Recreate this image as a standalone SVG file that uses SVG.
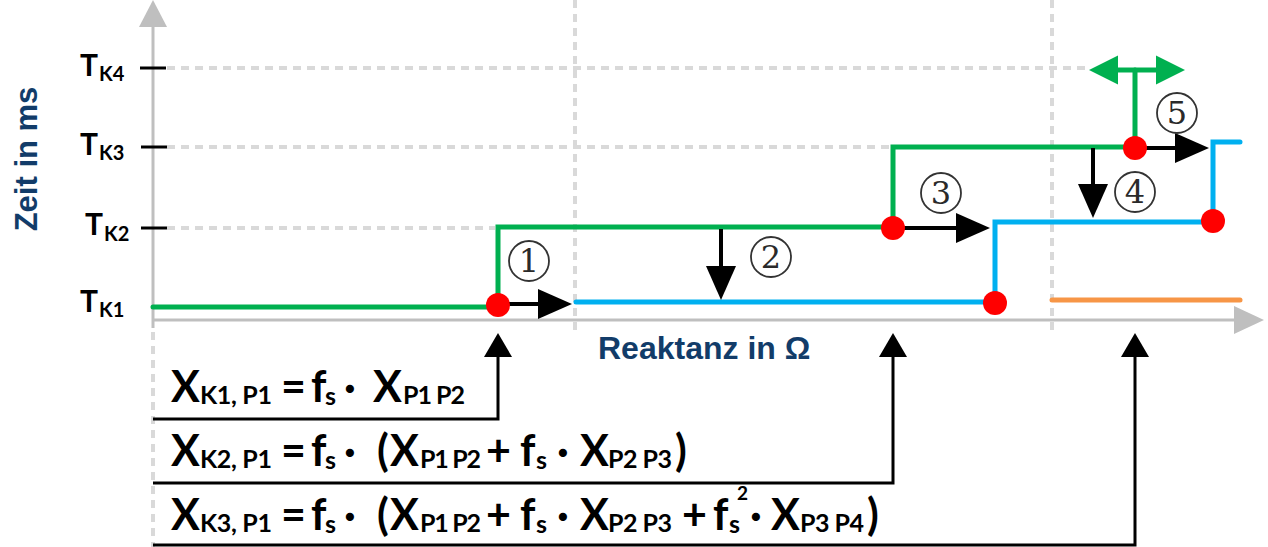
<svg xmlns="http://www.w3.org/2000/svg" width="1268" height="547" viewBox="0 0 1268 547">
<style>
.dash{stroke:#d9d9d9;stroke-width:4;stroke-dasharray:8 6;fill:none}
.axis{stroke:#bfbfbf;stroke-width:3;fill:none}
.tick{stroke:#000;stroke-width:3}
.green{stroke:#00b050;stroke-width:5;fill:none;stroke-linecap:round;stroke-linejoin:miter}
.blue{stroke:#00b0f0;stroke-width:5;fill:none;stroke-linecap:round;stroke-linejoin:miter}
.orange{stroke:#f79646;stroke-width:5;fill:none;stroke-linecap:round}
.arr{stroke:#000;stroke-width:4;fill:none}
.conn{stroke:#000;stroke-width:3;fill:none}
.dot{fill:#ff0000}
.circ{fill:none;stroke:#333;stroke-width:1.8}
.num{font-family:"DejaVu Serif","Liberation Serif",serif;font-size:32px;fill:#2a2a2a;text-anchor:middle}
.tl{font-family:Lato,"Liberation Sans",sans-serif;font-weight:bold;fill:#000}
.ax{font-family:"Liberation Sans",Arial,sans-serif;font-weight:bold;fill:#123c69}
.f{font-family:Lato,"Liberation Sans",sans-serif;font-weight:bold;font-size:43px;fill:#000}
.s{font-size:25px}
.sp{font-size:19px}
</style>
<defs>
<marker id="ah" markerUnits="userSpaceOnUse" markerWidth="35" markerHeight="32" viewBox="0 0 35 32" refX="1" refY="16" orient="auto">
<path d="M0,1 L34,16 L0,31 Z" fill="#000"/>
</marker>
<marker id="ahs" markerUnits="userSpaceOnUse" markerWidth="30" markerHeight="30" viewBox="0 0 30 30" refX="1" refY="15" orient="auto">
<path d="M0,1 L24,15 L0,29 Z" fill="#000"/>
</marker>
<marker id="ag" markerUnits="userSpaceOnUse" markerWidth="32" markerHeight="32" viewBox="0 0 32 32" refX="1" refY="16" orient="auto">
<path d="M0,1.5 L29,16 L0,30.5 Z" fill="#00b050"/>
</marker>
</defs>

<g id="grid">
<line class="dash" x1="167" y1="68" x2="1088" y2="68"/>
<line class="dash" x1="167" y1="147" x2="890" y2="147"/>
<line class="dash" x1="167" y1="228" x2="495" y2="228"/>
<line class="dash" x1="575" y1="0" x2="575" y2="330"/>
<line class="dash" x1="1052" y1="0" x2="1052" y2="330"/>
<line class="dash" x1="153" y1="332" x2="153" y2="547"/>
</g>

<g id="axes">
<line class="axis" x1="153" y1="26" x2="153" y2="328"/>
<polygon points="153,0 167,27 139,27" fill="#bfbfbf"/>
<line class="axis" x1="153" y1="320" x2="1236" y2="320"/>
<polygon points="1264,320 1234,306 1234,334" fill="#bfbfbf"/>
<line class="tick" x1="140" y1="68" x2="166" y2="68"/>
<line class="tick" x1="141" y1="147" x2="167" y2="147"/>
<line class="tick" x1="141" y1="228" x2="167" y2="228"/>
<text class="ax" font-size="31" text-anchor="middle" transform="translate(37,159) rotate(-90)">Zeit in ms</text>
<text class="ax" font-size="32" x="598" y="359">Reaktanz in Ω</text>
</g>

<g id="tlabels">
<text class="tl" font-size="30" x="80" y="76">T<tspan font-size="20" x="99" y="81">K4</tspan></text>
<text class="tl" font-size="30" x="80" y="155">T<tspan font-size="20" x="99" y="160">K3</tspan></text>
<text class="tl" font-size="30" x="85" y="235">T<tspan font-size="20" x="104" y="241">K2</tspan></text>
<text class="tl" font-size="30" x="80" y="312">T<tspan font-size="20" x="99" y="317">K1</tspan></text>
</g>

<g id="curve-green">
<path class="green" d="M153,307 H498 V227 H893 V147 H1135"/>
<line class="green" x1="1135" y1="147" x2="1135" y2="70" stroke-linecap="butt"/>
<line stroke="#00b050" stroke-width="5" x1="1135" y1="70" x2="1157" y2="70" marker-end="url(#ag)"/>
<line stroke="#00b050" stroke-width="5" x1="1135" y1="70" x2="1117" y2="70" marker-end="url(#ag)"/>
</g>

<g id="curve-blue">
<path class="blue" d="M576,302 H995 V222 H1213 V142 H1240"/>
</g>

<g id="curve-orange">
<line class="orange" x1="1052" y1="300" x2="1240" y2="300"/>
</g>

<g id="connectors">
<line class="arr" x1="498" y1="304" x2="539" y2="304" marker-end="url(#ah)"/>
<line class="arr" x1="721" y1="229" x2="721" y2="267" marker-end="url(#ah)"/>
<line class="arr" x1="893" y1="228" x2="957" y2="228" marker-end="url(#ah)"/>
<line class="arr" x1="1093" y1="148" x2="1093" y2="185" marker-end="url(#ah)"/>
<line class="arr" x1="1135" y1="148" x2="1176" y2="148" marker-end="url(#ah)"/>
<polyline class="conn" points="153,419 498,419 498,356" marker-end="url(#ahs)"/>
<polyline class="conn" points="153,483 893,483 893,356" marker-end="url(#ahs)"/>
<polyline class="conn" points="153,545 1135,545 1135,356" marker-end="url(#ahs)"/>
</g>

<g id="points">
<circle class="dot" cx="498" cy="305" r="12"/>
<circle class="dot" cx="893" cy="228" r="12"/>
<circle class="dot" cx="995" cy="303" r="12"/>
<circle class="dot" cx="1135" cy="148" r="12"/>
<circle class="dot" cx="1213" cy="221" r="12"/>
</g>

<g id="n1"><circle class="circ" cx="529" cy="261" r="20"/><text class="num" x="529" y="272">1</text></g>
<g id="n2"><circle class="circ" cx="771" cy="257" r="20"/><text class="num" x="771" y="268">2</text></g>
<g id="n3"><circle class="circ" cx="941" cy="193" r="20"/><text class="num" x="941" y="204">3</text></g>
<g id="n4"><circle class="circ" cx="1135" cy="192" r="20"/><text class="num" x="1135" y="203">4</text></g>
<g id="n5"><circle class="circ" cx="1177" cy="113" r="20"/><text class="num" x="1177" y="124">5</text></g>

<g id="formula1">
<text class="f" y="402"><tspan x="171">X</tspan><tspan class="s" x="200" y="404" textLength="72">K1, P1</tspan><tspan x="281" y="402">=</tspan><tspan x="311">f</tspan><tspan class="s" x="325" y="405">s</tspan><tspan x="344" y="402">·</tspan><tspan x="373">X</tspan><tspan class="s" x="403" y="404" textLength="62">P1 P2</tspan></text>
</g>
<g id="formula2">
<text class="f" y="466"><tspan x="171">X</tspan><tspan class="s" x="200" y="468" textLength="72">K2, P1</tspan><tspan x="281" y="466">=</tspan><tspan x="311">f</tspan><tspan class="s" x="325" y="469">s</tspan><tspan x="344" y="466">·</tspan><tspan x="377">(</tspan><tspan x="390">X</tspan><tspan class="s" x="420" y="468" textLength="61">P1 P2</tspan><tspan x="486" y="466">+</tspan><tspan x="520">f</tspan><tspan class="s" x="536" y="469">s</tspan><tspan x="557" y="466">·</tspan><tspan x="580">X</tspan><tspan class="s" x="608" y="468" textLength="64">P2 P3</tspan><tspan x="675" y="466">)</tspan></text>
</g>
<g id="formula3">
<text class="f" y="530"><tspan x="171">X</tspan><tspan class="s" x="200" y="532" textLength="72">K3, P1</tspan><tspan x="281" y="530">=</tspan><tspan x="311">f</tspan><tspan class="s" x="325" y="533">s</tspan><tspan x="344" y="530">·</tspan><tspan x="377">(</tspan><tspan x="390">X</tspan><tspan class="s" x="420" y="532" textLength="61">P1 P2</tspan><tspan x="486" y="530">+</tspan><tspan x="520">f</tspan><tspan class="s" x="536" y="533">s</tspan><tspan x="557" y="530">·</tspan><tspan x="580">X</tspan><tspan class="s" x="608" y="532" textLength="64">P2 P3</tspan><tspan x="682" y="530">+</tspan><tspan x="713">f</tspan><tspan class="s" x="729" y="533">s</tspan><tspan class="sp" x="737" y="500">2</tspan><tspan x="750" y="530">·</tspan><tspan x="771">X</tspan><tspan class="s" x="800" y="532" textLength="64">P3 P4</tspan><tspan x="867" y="530">)</tspan></text>
</g>
</svg>
